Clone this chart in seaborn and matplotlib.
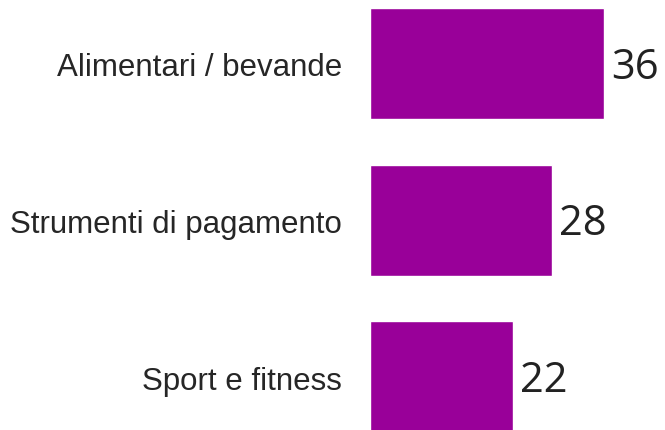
import pandas as pd
import seaborn as sns
import matplotlib.pyplot as plt

categories = ["Alimentari / bevande", "Strumenti di pagamento", "Sport e fitness"]
values = [36, 28, 22]

df = pd.DataFrame({"categoria": categories, "valore": values})

sns.set_theme(style="white")
plt.rcParams['font.family'] = ['Liberation Sans', 'DejaVu Sans']

fig = plt.figure(figsize=(6.65, 4.31), dpi=100)
ax = fig.add_axes([370 / 665, 0, 295 / 665, 1])

sns.barplot(data=df, x="valore", y="categoria", color="#990099",
            saturation=1, width=0.71, ax=ax)

ax.set_xlim(0, 295 / 6.5)
ax.set_ylim(2.338, -0.4116)

for i, v in enumerate(values):
    ax.text(v + 1.1, i + 0.02, str(v), va="center", ha="left",
            fontsize=30, color="#222222", family=["Open Sans", "DejaVu Sans"])

sns.despine(ax=ax, left=True, bottom=True)
ax.set_xlabel("")
ax.set_ylabel("")
ax.set_xticks([])
ax.tick_params(axis="y", length=0, pad=20, labelsize=22.5, labelcolor="#262626")

fig.savefig("out.png", dpi=100)
